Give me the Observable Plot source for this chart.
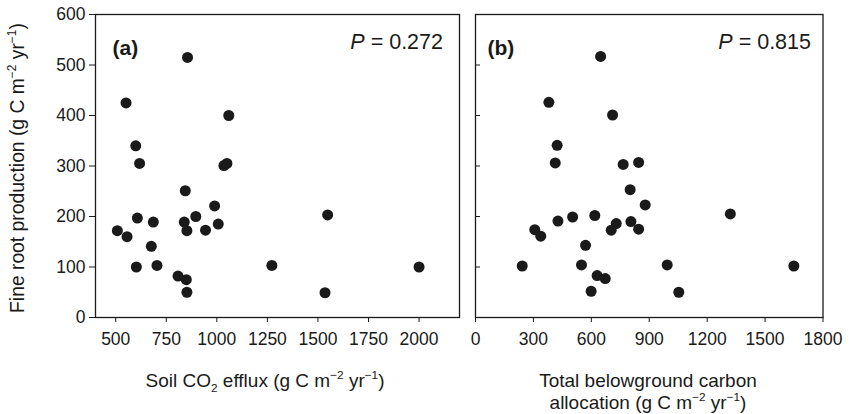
<!DOCTYPE html>
<html><head><meta charset="utf-8">
<script src="https://cdn.jsdelivr.net/npm/d3@7"></script>
<script src="https://cdn.jsdelivr.net/npm/@observablehq/plot@0.6"></script>
<style>
body{margin:0;background:#fff;}
#wrap{position:relative;width:855px;height:414px;font-family:"Liberation Sans",Arial,Helvetica,sans-serif;}
#wrap svg{position:absolute;top:0;background:transparent;}
</style></head><body><div id="wrap"></div>
<script>
const yTicks = [0, 100, 200, 300, 400, 500, 600];
const xTicksA = [500, 750, 1000, 1250, 1500, 1750, 2000];
const xTicksB = [0, 300, 600, 900, 1200, 1500, 1800];

// Panel (a): soil CO2 efflux vs fine root production
const soilCO2Efflux = [855, 551, 1059, 599, 618, 1035, 1050, 844, 989, 896, 607, 1548, 686, 839, 1007, 508, 852, 944, 556, 676, 602, 704, 1272, 2000, 808, 849, 852, 1535];
const rootProdA     = [515, 425, 400, 340, 305, 301, 305, 251, 221, 200, 197, 203, 189, 189, 185, 172, 172, 173, 160, 141, 100, 103, 103, 100, 82, 75, 50, 49];

// Panel (b): total belowground carbon allocation vs fine root production
const tbca      = [648, 380, 710, 423, 413, 765, 845, 801, 879, 503, 618, 1320, 427, 729, 805, 307, 703, 845, 338, 570, 242, 549, 993, 1649, 630, 672, 599, 1053];
const rootProdB = [517, 426, 401, 341, 306, 303, 307, 253, 223, 199, 202, 205, 191, 186, 190, 174, 173, 175, 161, 143, 102, 104, 104, 102, 83, 77, 52, 50];

const panelLabels = ["(a)", "(b)"];
const pValues = ["0.272", "0.815"];

const FONT = '"Liberation Sans", Arial, Helvetica, sans-serif';
const INK = "#1a1a1a";

const dataA = soilCO2Efflux.map((x, i) => ({x, y: rootProdA[i]}));
const dataB = tbca.map((x, i) => ({x, y: rootProdB[i]}));

const common = {
  height: 414,
  marginTop: 14,
  marginBottom: 97,
  style: {fontFamily: FONT, fontSize: "17.5px", color: INK, background: "transparent", overflow: "visible"}
};
const fmt = d => String(d);

const plotA = Plot.plot({
  ...common,
  width: 470,
  marginLeft: 95,
  marginRight: 11,
  x: {domain: [400, 2200]},
  y: {domain: [0, 600]},
  marks: [
    Plot.axisY({ticks: yTicks, tickSize: 6, tickPadding: 4, tickFormat: fmt, label: null}),
    Plot.axisX({ticks: xTicksA, tickSize: 5, tickPadding: 10, tickFormat: fmt, label: null}),
    Plot.frame({stroke: INK, strokeWidth: 1.3}),
    Plot.dot(dataA, {x: "x", y: "y", r: 5.5, fill: INK, stroke: "none"}),
    Plot.text([panelLabels[0]], {frameAnchor: "top-left", textAnchor: "start", dx: 17, dy: 26, fontWeight: "bold", fontSize: 21, fill: INK})
  ]
});

const plotB = Plot.plot({
  ...common,
  width: 395,
  marginLeft: 15,
  marginRight: 32.5,
  x: {domain: [0, 1800]},
  y: {domain: [0, 600]},
  marks: [
    Plot.axisY({ticks: yTicks, tickSize: 5, dx: 5, tickFormat: () => "", label: null}),
    Plot.axisX({ticks: xTicksB, tickSize: 5, tickPadding: 10, tickFormat: fmt, label: null}),
    Plot.frame({stroke: INK, strokeWidth: 1.3}),
    Plot.dot(dataB, {x: "x", y: "y", r: 5.5, fill: INK, stroke: "none"}),
    Plot.text([panelLabels[1]], {frameAnchor: "top-left", textAnchor: "start", dx: 12, dy: 26, fontWeight: "bold", fontSize: 21, fill: INK})
  ]
});

const wrap = document.getElementById("wrap");
plotA.style.left = "0px";
plotB.style.left = "460px";
wrap.appendChild(plotA);
wrap.appendChild(plotB);

// rich text helper: parts = [[text, kind]] kind: null | "sup" | "sub" | "it"
function rich(svg, x, y, parts, {anchor = "middle", size = 16, rotate = 0} = {}) {
  const t = d3.select(svg).append("text")
    .attr("transform", `translate(${x},${y})` + (rotate ? ` rotate(${rotate})` : ""))
    .attr("text-anchor", anchor)
    .attr("font-family", FONT)
    .attr("font-size", size)
    .attr("fill", INK);
  let shift = 0;
  for (const [s, kind] of parts) {
    const ts = t.append("tspan").text(s);
    let target = 0;
    if (kind === "sup") { target = -0.42 * size; ts.attr("font-size", size * 0.62); }
    if (kind === "sub") { target = 0.25 * size; ts.attr("font-size", size * 0.62); }
    if (kind === "it") ts.attr("font-style", "italic");
    ts.attr("dy", target - shift);
    shift = target;
  }
  return t;
}

const unitParts = [["(g C m", null], ["−2", "sup"], [" yr", null], ["−1", "sup"], [")", null]];

rich(plotA, 24, 168, [["Fine root production ", null], ...unitParts], {rotate: -90, size: 19.3});
rich(plotA, 265, 387, [["Soil CO", null], ["2", "sub"], [" efflux ", null], ...unitParts], {size: 19});
rich(plotB, 188, 387, [["Total belowground carbon", null]], {size: 19});
rich(plotB, 188, 409, [["allocation ", null], ...unitParts], {size: 19});

rich(plotA, 443, 49, [["P", "it"], [" = " + pValues[0], null]], {anchor: "end", size: 21.5});
rich(plotB, 351, 49, [["P", "it"], [" = " + pValues[1], null]], {anchor: "end", size: 21.5});
</script>
</body></html>
